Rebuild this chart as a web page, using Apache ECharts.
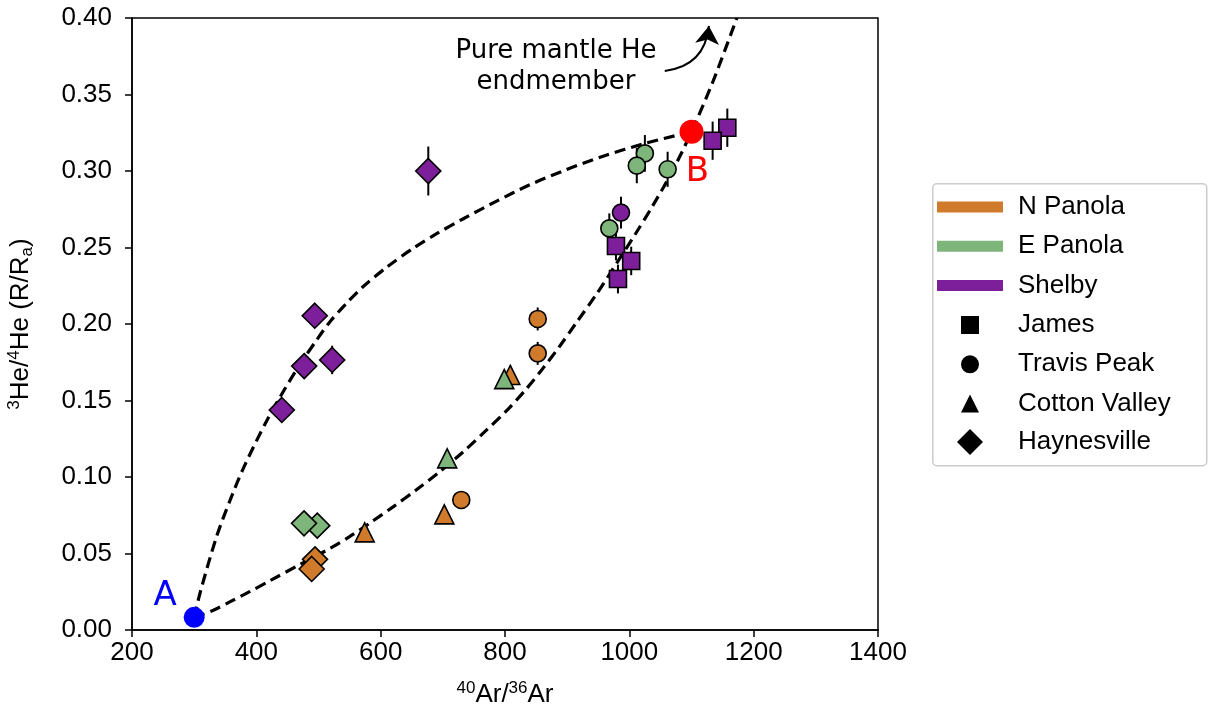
<!DOCTYPE html>
<html><head><meta charset="utf-8">
<script src="https://cdn.jsdelivr.net/npm/echarts@6/dist/echarts.min.js"></script>
<style>html,body{margin:0;padding:0;background:#fff}#c{width:1216px;height:711px}</style>
</head><body><div id="c"></div>
<script>
// ---- data: [40Ar/36Ar, 3He/4He (R/Ra), 1-sigma error] ----
const nPanolaTravis = [[852.6,0.2033,0.0075],[852.6,0.1808,0.0075],[729.7,0.085,0.004]];
const nPanolaCotton = [[808.5,0.1667,0.006],[574.3,0.0638,0.004],[702.4,0.0756,0.004]];
const nPanolaHaynes = [[494.4,0.0462,0.004],[489,0.0399,0.004]];
const ePanolaTravis = [[1025,0.3115,0.012],[1012,0.3035,0.0115],[1061.6,0.3011,0.0115],[967.8,0.2625,0.0098]];
const ePanolaCotton = [[707,0.1122,0.004],[798.8,0.164,0.006]];
const ePanolaHaynes = [[498,0.0682,0.004],[476.7,0.0697,0.004]];
const shelbyJames = [[1157.6,0.3283,0.0125],[1134,0.3198,0.0125],[978.5,0.251,0.0094],[1003,0.2412,0.0093],[981.7,0.2294,0.0094]];
const shelbyTravis = [[986.6,0.2728,0.0104]];
const shelbyHaynes = [[676.6,0.300,0.016],[494,0.2054,0.005],[522,0.1765,0.0093],[477,0.1725,0.0082],[441,0.1438,0.005]];

const endmemberA = [300, 0.0083];
const endmemberB = [1100, 0.3257];

// mixing curves
const upperCurve = [[300,0.0083],[310,0.025],[336,0.061],[358,0.085],[380,0.1065],[417,0.137],[445,0.157],[470,0.1735],[497,0.1895],[518.5,0.2015],[545,0.2135],[572,0.2245],[610,0.2372],[652,0.2494],[690,0.2590],[733,0.2688],[785,0.2800],[840,0.2910],[895,0.3003],[953,0.3090],[1025,0.3180],[1100,0.3257]];
const lowerCurve = [[300,0.0083],[330,0.0128],[358,0.0185],[390,0.0252],[422,0.0322],[470,0.0428],[518,0.0532],[550,0.0610],[583,0.0700],[620,0.0805],[658,0.0918],[695,0.1035],[733,0.1165],[768,0.1298],[803,0.1435],[832,0.1565],[860,0.1705],[888,0.1855],[915,0.2010],[948,0.2200],[980,0.2400],[1010,0.2590],[1038,0.2775],[1070,0.3005],[1100,0.3257],[1135,0.3590],[1173,0.40]];

const annotationText = 'Pure mantle He\nendmember';
const annotationAt = [882, 0.368];
const arrowFrom = [1057, 0.3654];
const arrowTo = [1128, 0.3948];

const regions = ['N Panola','E Panola','Shelby'];
const formations = ['James','Travis Peak','Cotton Valley','Haynesville'];
const regionColors = ['#CF7B2B','#7DB57A','#7D1F9A'];
const xTicks = {min:200, max:1400, interval:200};
const yTicks = {min:0, max:0.40, interval:0.05};

const symSize = {rect:17, circle:17, triangle:19, diamond:25};
function items(arr, sym){
  return arr.map(p => ({value:[p[0],p[1]], symbol:sym, symbolSize:symSize[sym]}));
}
const regionData = [
  [...items(nPanolaTravis,'circle'),...items(nPanolaCotton,'triangle'),...items(nPanolaHaynes,'diamond')],
  [...items(ePanolaTravis,'circle'),...items(ePanolaCotton,'triangle'),...items(ePanolaHaynes,'diamond')],
  [...items(shelbyJames,'rect'),...items(shelbyTravis,'circle'),...items(shelbyHaynes,'diamond')]
];
const errorData = [].concat(nPanolaTravis,nPanolaCotton,nPanolaHaynes,ePanolaTravis,ePanolaCotton,ePanolaHaynes,shelbyJames,shelbyTravis,shelbyHaynes);

const dash = {color:'#000', width:3.2, type:[11,6], opacity:1};
const chart = echarts.init(document.getElementById('c'), null, {renderer:'canvas'});
const FONT = 'Liberation Sans, Arial, sans-serif';

const series = [
  {type:'line', data:upperCurve, smooth:0.3, showSymbol:false, symbol:'none', lineStyle:dash, z:1, silent:true},
  {type:'line', data:lowerCurve, smooth:0.3, showSymbol:false, symbol:'none', lineStyle:dash, z:1, silent:true},
  {type:'custom', data:errorData, encode:{x:0,y:1}, z:2, silent:true,
   renderItem:(params, api) => {
     const x = api.value(0), y = api.value(1), e = api.value(2);
     const p1 = api.coord([x, y - e]), p2 = api.coord([x, y + e]);
     return {type:'line', shape:{x1:p1[0],y1:p1[1],x2:p2[0],y2:p2[1]}, style:{stroke:'#000', lineWidth:2}};
   }}
];
regions.forEach((r,i) => series.push({
  type:'scatter', name:r, data:regionData[i], z:3,
  itemStyle:{color:regionColors[i], borderColor:'#000', borderWidth:1.6, opacity:1}
}));
const formSyms = ['rect','circle','triangle','diamond'];
formations.forEach((f,i) => series.push({type:'scatter', name:f, data:[], symbol:formSyms[i], itemStyle:{color:'#000', opacity:1}}));
series.push({type:'scatter', data:[endmemberA], symbolSize:21, z:5, itemStyle:{color:'#0000FF', opacity:1},
  label:{show:true, formatter:'A', position:'inside', offset:[-29,-21], color:'#0000FF', opacity:1, fontSize:34, fontFamily:'DejaVu Sans'}});
series.push({type:'scatter', data:[endmemberB], symbolSize:24, z:5, itemStyle:{color:'#FF0000', opacity:1},
  label:{show:true, formatter:'B', position:'inside', offset:[6,40], color:'#FF0000', opacity:1, fontSize:34, fontFamily:'DejaVu Sans'}});
series.push({type:'scatter', data:[annotationAt], symbolSize:0, z:5, silent:true, itemStyle:{opacity:1},
  label:{show:true, formatter:annotationText, position:'inside', color:'#000', opacity:1, fontSize:26, lineHeight:31, align:'center', fontFamily:'DejaVu Sans'}});
series.push({type:'lines', coordinateSystem:'cartesian2d', z:5, silent:true,
  data:[{coords:[arrowFrom, arrowTo]}], symbol:['none','arrow'], symbolSize:[0,18],
  lineStyle:{color:'#000', width:2, curveness:-0.4, opacity:1}});

const legendText = {fontSize:26, fontFamily:FONT, color:'#000', lineHeight:30};
const legendBase = {orient:'vertical', padding:0, selectedMode:false, itemStyle:{borderWidth:0}};
chart.setOption({
  animation:false,
  backgroundColor:'#fff',
  grid:{left:132, top:18, width:746, height:612, outerBoundsMode:'none', containLabel:false,
        show:true, borderColor:'#000', borderWidth:1.5, backgroundColor:'transparent'},
  xAxis:{type:'value', min:xTicks.min, max:xTicks.max, interval:xTicks.interval,
    axisLine:{show:true, onZero:false, lineStyle:{color:'#000', width:1.5}},
    axisTick:{show:true, inside:false, length:7, lineStyle:{color:'#000', width:1.5}},
    splitLine:{show:false},
    axisLabel:{fontSize:26, fontFamily:FONT, color:'#000', margin:10, formatter:v => String(v)},
    name:'{sup|40}Ar/{sup|36}Ar', nameLocation:'middle', nameGap:50,
    nameTextStyle:{fontSize:26, fontFamily:FONT, color:'#000', lineHeight:30,
      rich:{sup:{fontSize:17, lineHeight:17, verticalAlign:'top', fontFamily:FONT, color:'#000'}}}},
  yAxis:{type:'value', min:yTicks.min, max:yTicks.max, interval:yTicks.interval,
    axisLine:{show:true, onZero:false, lineStyle:{color:'#000', width:1.5}},
    axisTick:{show:true, inside:false, length:7, lineStyle:{color:'#000', width:1.5}},
    splitLine:{show:false},
    axisLabel:{fontSize:26, fontFamily:FONT, color:'#000', margin:20, formatter:v => v.toFixed(2)},
    name:'{sup|3}He/{sup|4}He (R/R{sub|a})', nameLocation:'middle', nameGap:96,
    nameTextStyle:{fontSize:26, fontFamily:FONT, color:'#000', lineHeight:30,
      rich:{sup:{fontSize:17, lineHeight:17, verticalAlign:'top', fontFamily:FONT, color:'#000'},
            sub:{fontSize:17, lineHeight:17, verticalAlign:'bottom', fontFamily:FONT, color:'#000'}}}},
  legend:[
    Object.assign({}, legendBase, {data:regions.map((r,i) => ({name:r, icon:'rect', itemStyle:{color:regionColors[i], borderWidth:0}})),
      left:937, top:192, itemWidth:66, itemHeight:11, itemGap:9.3, textStyle:Object.assign({padding:[0,0,0,10]}, legendText)}),
    Object.assign({}, legendBase, {data:formations.slice(0,3).map((f,i) => ({name:f, icon:formSyms[i], itemStyle:{color:'#000', borderWidth:0}})),
      left:961, top:310, itemWidth:18, itemHeight:18, itemGap:9.3, textStyle:Object.assign({padding:[0,0,0,34]}, legendText)}),
    Object.assign({}, legendBase, {data:[{name:formations[3], icon:'diamond', itemStyle:{color:'#000', borderWidth:0}}],
      left:957, top:427, itemWidth:26, itemHeight:26, textStyle:Object.assign({padding:[0,0,0,30]}, legendText)})
  ],
  graphic:[{type:'rect', left:932, top:183, shape:{width:274, height:282, r:4}, style:{fill:'#fff', stroke:'#cccccc', lineWidth:1.5}, z:-1}],
  series:series
});
</script></body></html>
